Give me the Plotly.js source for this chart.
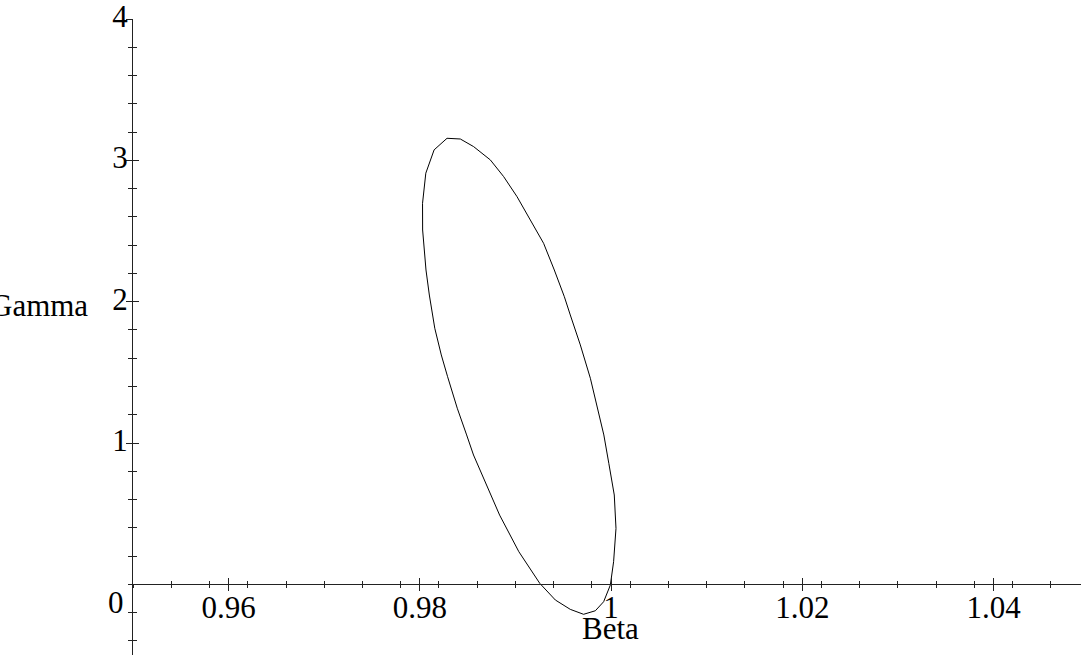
<!DOCTYPE html>
<html>
<head>
<meta charset="utf-8">
<script src="https://cdn.plot.ly/plotly-3.0.1.min.js"></script>
<style>html,body{margin:0;padding:0;background:#fff;}#chart{width:1081px;height:658px;}</style>
</head>
<body>
<div id="chart"></div>
<script>
// Confidence region outline (Beta, Gamma)
const beta = [0.98284, 0.98423, 0.98562, 0.98737, 0.98876, 0.99016, 0.99155, 0.99294, 0.99406, 0.99511,
  0.99573, 0.99678, 0.99783, 0.99861, 0.99924, 0.99976, 1.00033, 1.00051, 1.00026, 0.99992,
  0.99922, 0.99835, 0.99712, 0.99573, 0.99417, 0.99254, 0.99035, 0.98834, 0.98653, 0.98561,
  0.98489, 0.98391, 0.98290, 0.98224, 0.98156, 0.98099, 0.98064, 0.98029, 0.98028, 0.98062,
  0.98149, 0.98284];
const gamma = [3.156, 3.151, 3.097, 3.003, 2.885, 2.743, 2.578, 2.413, 2.224, 2.035,
  1.906, 1.694, 1.458, 1.246, 1.057, 0.856, 0.632, 0.396, 0.160, -0.005,
  -0.123, -0.187, -0.212, -0.177, -0.111, 0.007, 0.231, 0.490, 0.774, 0.915,
  1.057, 1.246, 1.469, 1.623, 1.812, 2.047, 2.224, 2.507, 2.696, 2.909,
  3.074, 3.156];

const xTickVals = [0.96, 0.98, 1, 1.02, 1.04];
const xTickText = ["0.96", "0.98", "1", "1.02", "1.04"];
const yTickVals = [1, 2, 3, 4];
const yTickText = ["1", "2", "3", "4"];
const xTitle = "Beta";
const yTitle = "Gamma";
const originLabel = "0";

const xRange = [0.95, 1.04914];
const yRange = [-0.5, 4.0];
const axisCol = '#222';
const font = {family: 'Liberation Serif, Times New Roman, serif', size: 31, color: '#000'};
const yZeroPos = (0 - yRange[0]) / (yRange[1] - yRange[0]);

const traces = [
  {x: beta, y: gamma, type: 'scatter', mode: 'lines', line: {color: '#000', width: 1}, hoverinfo: 'skip', showlegend: false},
  {x: [], y: [], xaxis: 'x2', yaxis: 'y2', type: 'scatter', mode: 'lines', showlegend: false}
];

const baseX = {
  range: xRange, showgrid: false, zeroline: false, showline: true, linecolor: axisCol, linewidth: 1,
  anchor: 'free', position: yZeroPos,
  tickmode: 'array', tickvals: xTickVals, ticktext: xTickText, ticklen: 6, tickcolor: axisCol, tickwidth: 1,
  minor: {dtick: 0.004, tick0: 0.95, ticklen: 3, tickcolor: axisCol, tickwidth: 1},
  fixedrange: true
};
const baseY = {
  range: yRange, showgrid: false, zeroline: false, showline: true, linecolor: axisCol, linewidth: 1,
  tickmode: 'array', tickvals: yTickVals, ticktext: yTickText, ticklen: 6, tickcolor: axisCol, tickwidth: 1,
  minor: {dtick: 0.2, tick0: 0, ticklen: 4, tickcolor: axisCol, tickwidth: 1},
  fixedrange: true
};

const layout = {
  width: 1081, height: 658,
  margin: {l: 133, r: 0, t: 19, b: 3, pad: 0},
  paper_bgcolor: '#fff', plot_bgcolor: '#fff',
  font: font,
  showlegend: false,
  xaxis: Object.assign({}, baseX, {ticks: 'outside', minor: Object.assign({}, baseX.minor, {ticks: 'outside'}),
    showticklabels: true, tickfont: font, ticklabelstandoff: -11, ticklabeloverflow: 'allow'}),
  yaxis: Object.assign({}, baseY, {anchor: 'x', side: 'left', ticks: 'outside', minor: Object.assign({}, baseY.minor, {ticks: 'outside'}),
    showticklabels: true, tickfont: font, ticklabelstandoff: -8, ticklabelshift: -3, ticklabeloverflow: 'allow'}),
  xaxis2: Object.assign({}, baseX, {overlaying: 'x', ticks: 'inside', minor: Object.assign({}, baseX.minor, {ticks: 'inside'}),
    showticklabels: false, showline: false}),
  yaxis2: Object.assign({}, baseY, {overlaying: 'y', anchor: 'x2', side: 'left', ticks: 'inside', minor: Object.assign({}, baseY.minor, {ticks: 'inside'}),
    showticklabels: false, showline: false}),
  annotations: [
    {text: yTitle, xref: 'paper', yref: 'y', x: -0.0454, y: 1.97, xanchor: 'right', yanchor: 'middle', showarrow: false, font: font},
    {text: originLabel, xref: 'paper', yref: 'y', x: -0.0075, y: -0.13, xanchor: 'right', yanchor: 'middle', showarrow: false, font: font},
    {text: xTitle, xref: 'paper', yref: 'y', x: 0.504, y: -0.315, xanchor: 'center', yanchor: 'middle', showarrow: false, font: font}
  ]
};

Plotly.newPlot('chart', traces, layout, {displayModeBar: false, staticPlot: true});
</script>
</body>
</html>
